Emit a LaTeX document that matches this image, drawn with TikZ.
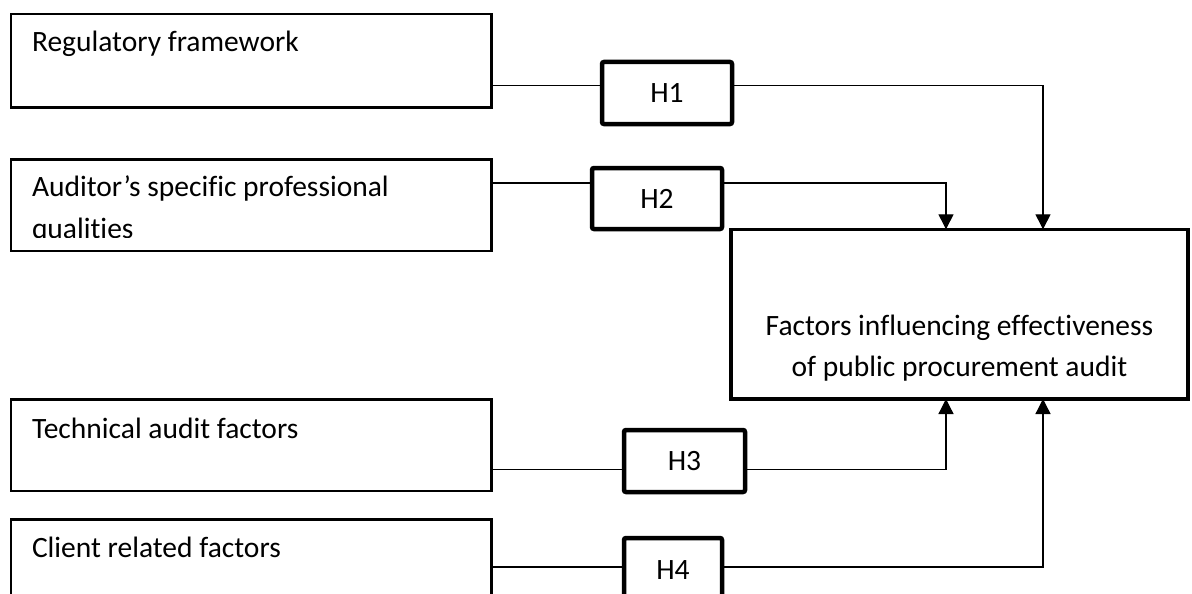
\documentclass[tikz,border=0pt]{standalone}
\usepackage{fontspec}
\setmainfont{Carlito}[Ligatures=NoCommon]
\usetikzlibrary{arrows.meta}
\tikzset{
  fbox/.style={draw=black, line width=2.4pt, anchor=north west, inner sep=0pt, outer sep=0pt},
  hbox/.style={draw=black, line width=4.5pt, rounded corners=2pt, anchor=north west, inner sep=0pt, outer sep=0pt, font=\fontsize{29.5}{36}\selectfont},
  mbox/.style={draw=black, line width=3.2pt, anchor=north west, inner sep=0pt, outer sep=0pt},
  lbl/.style={inner sep=0pt, outer sep=0pt, anchor=base west, font=\fontsize{29.5}{36}\selectfont},
  mlbl/.style={inner sep=0pt, outer sep=0pt, anchor=base, font=\fontsize{29.5}{36}\selectfont},
  conn/.style={line width=1.3pt},
  arr/.style={line width=1.3pt, -{Triangle[width=15pt,length=15pt]}}
}
\begin{document}
\begin{tikzpicture}[x=1pt,y=-1pt]
\useasboundingbox (0,0) rectangle (1192,594);
\fill[white] (0,0) rectangle (1192,594);
\clip (0,0) rectangle (1192,594);
% left boxes
\node[fbox, minimum width=480.7pt, minimum height=93.3pt] (b1) at (10.7,14) {};
\node[fbox, minimum width=480.7pt, minimum height=91.4pt] (b2) at (10.7,159.3) {};
\node[fbox, minimum width=480.7pt, minimum height=91.7pt] (b3) at (10.7,399.3) {};
\node[fbox, minimum width=480.7pt, minimum height=120pt] (b4) at (10.7,519.3) {};
\node[lbl] (t1) at (32,51.7) {Regulatory framework};
\node[lbl] (t2) at (32,196.7) {Auditor’s specific professional};
\begin{scope}
\clip (12,150) rectangle (489,237.5);
\node[lbl] (t2b) at (32,238.4) {qualities};
\end{scope}
\node[lbl] (t3) at (32,438.3) {Technical audit factors};
\node[lbl] (t4) at (32,557.3) {Client related factors};
% hypothesis boxes
\node[hbox, minimum width=130pt, minimum height=62pt] (h1) at (602,62) {H1};
\node[hbox, minimum width=130pt, minimum height=61pt] (h2) at (592,168) {H2};
\node[hbox, minimum width=121pt, minimum height=62pt] (h3) at (624,430) {H3};
\node[hbox, minimum width=98pt, minimum height=64pt] (h4) at (624,538) {H4};
% main box
\node[mbox, minimum width=457pt, minimum height=169.7pt] (main) at (731,229.3) {};
\node[mlbl] (m1) at (959.5,335) {Factors influencing effectiveness};
\node[mlbl] (m2) at (959.5,376.7) {of public procurement audit};
% connectors
\draw[conn] (b1.east |- 0,85.7) -- (h1.west |- 0,85.7);
\draw[arr] (h1.east |- 0,85.7) -| (main.north -| 1043,0);
\draw[conn] (b2.east |- 0,183) -- (h2.west |- 0,183);
\draw[arr] (h2.east |- 0,183) -| (main.north -| 946,0);
\draw[conn] (b3.east |- 0,469.3) -- (h3.west |- 0,469.3);
\draw[arr] (h3.east |- 0,469.3) -| (main.south -| 946,0);
\draw[conn] (b4.east |- 0,567) -- (h4.west |- 0,567);
\draw[arr] (h4.east |- 0,567) -| (main.south -| 1043,0);
\end{tikzpicture}
\end{document}
